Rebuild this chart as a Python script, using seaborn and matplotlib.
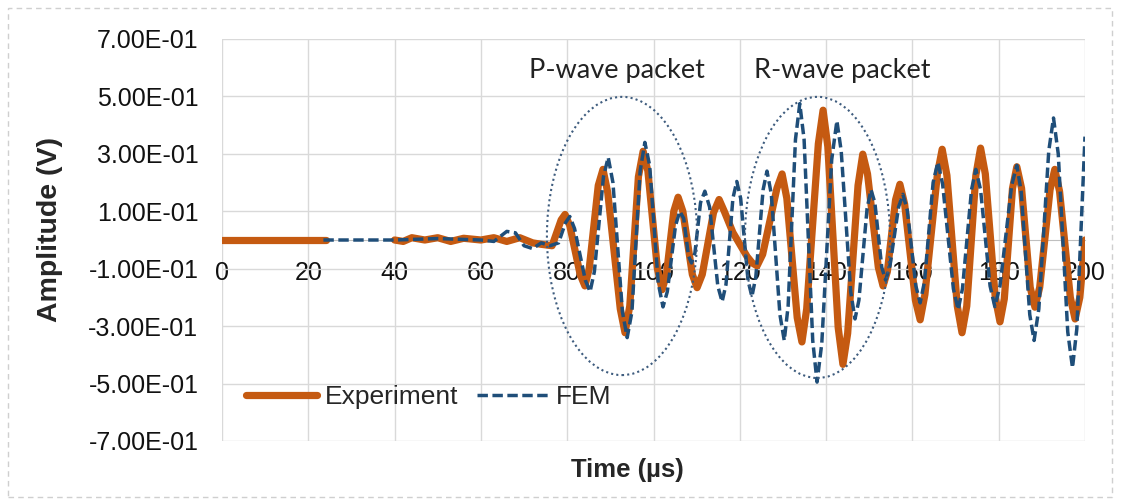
import pandas as pd
import matplotlib
matplotlib.use("Agg")
import matplotlib.pyplot as plt
from matplotlib.patches import Ellipse, Rectangle
import seaborn as sns

# values: each peak / trough with the points
# on its two flanks, so the waves keep their rounded shape
exp_time = [0, 24,
            40, 42, 44, 47, 50, 53, 56, 60, 63, 66, 69, 72, 74, 76.5,
            78.6, 79.5, 80.6,   83.0, 84.1, 85.1,   87.2, 88.3, 89.4,
            92.3, 93.4, 94.5,   96.5, 97.6, 98.7,   100.9, 102.0, 103.0,
            104.7, 105.7, 106.8,   109.0, 110.1, 111.3,   113.9, 115.2, 116.4,
            118.4, 121.7,   122.9, 124.0, 125.3,   128.6, 129.8, 130.9,
            133.3, 134.4, 135.5,   138.2, 139.3, 140.4,   142.8, 143.9, 145.0,
            147.4, 148.5, 149.6,   152.1, 153.2, 154.2,   156.1, 157.1, 158.2,
            160.7, 161.8, 162.9,   165.8, 166.9, 168.0,   170.4, 171.5, 172.6,
            174.7, 175.8, 176.9,   179.2, 180.3, 181.3,   183.2, 184.2, 185.3,
            187.3, 188.4, 189.5,   191.9, 193.0, 194.1,   196.6, 197.7, 198.8,
            200]
exp_amp = [0, 0,
           0, -0.005, 0.008, 0, 0.008, -0.005, 0.006, 0, 0.008, -0.005, 0.008, -0.01, -0.015, -0.02,
           0.07, 0.089, 0.05,   -0.12, -0.16, -0.10,   0.19, 0.246, 0.165,
           -0.24, -0.323, -0.23,   0.22, 0.309, 0.24,   -0.10, -0.173, -0.12,
           0.10, 0.149, 0.10,   -0.12, -0.166, -0.12,   0.095, 0.141, 0.10,
           0.026, -0.058,   -0.08, -0.09, -0.05,   0.18, 0.23, 0.145,
           -0.27, -0.355, -0.24,   0.335, 0.452, 0.325,   -0.305, -0.433, -0.325,
           0.19, 0.299, 0.23,   -0.095, -0.16, -0.11,   0.14, 0.194, 0.125,
           -0.21, -0.278, -0.19,   0.23, 0.316, 0.225,   -0.23, -0.323, -0.23,
           0.225, 0.32, 0.23,   -0.20, -0.285, -0.205,   0.18, 0.255, 0.18,
           -0.165, -0.234, -0.165,   0.175, 0.246, 0.17,   -0.20, -0.275, -0.20,
           0.0]
# the experiment trace is not visible between 24 and 40 us
exp_part = [0, 0] + [1] * (len(exp_time) - 2)

fem_time = [23.5, 40, 50, 60, 63, 66, 68, 70, 72, 74, 76, 78,
            79.6, 80.6, 81.7,   84.2, 85.3, 86.3,   88.4, 89.5, 90.6,
            92.8, 93.9, 95.0,   96.9, 98.0, 99.1,   101.1, 102.2, 103.2,
            105.1, 106.1, 107.0,   108.1, 108.8, 109.6,   110.9, 111.9, 113.0,
            114.9, 115.9, 116.8,   118.4, 119.3, 120.2,   121.9, 122.8, 123.7,
            125.4, 126.3, 127.3,   129.3, 130.3, 131.2,   132.9, 133.9, 134.9,
            136.9, 137.9, 139.0,   141.3, 142.5, 143.5,   145.7, 146.7, 147.6,
            149.5, 150.4, 151.3,   152.9, 153.8, 154.8,   156.8, 157.8, 158.8,
            160.8, 161.8, 162.8,   164.8, 165.9, 167.0,   169.5, 170.6, 171.6,
            173.7, 174.7, 175.8,   178.0, 179.1, 180.3,   183.0, 184.2, 185.2,
            187.2, 188.2, 189.3,   191.6, 192.7, 193.8,   196.0, 197.1, 198.1,
            200]
fem_amp = [0, 0, 0.005, 0, -0.005, 0.03, 0.025, -0.02, -0.03, -0.01, -0.02, -0.01,
           0.06, 0.082, 0.04,   -0.14, -0.18, -0.11,   0.22, 0.288, 0.20,
           -0.25, -0.34, -0.25,   0.24, 0.34, 0.26,   -0.15, -0.233, -0.18,
           0.05, 0.10, 0.075,   -0.055, -0.08, -0.045,   0.13, 0.17, 0.115,
           -0.16, -0.215, -0.155,   0.145, 0.204, 0.145,   -0.14, -0.197, -0.13,
           0.175, 0.24, 0.16,   -0.26, -0.35, -0.23,   0.35, 0.475, 0.35,
           -0.35, -0.495, -0.36,   0.28, 0.415, 0.31,   -0.18, -0.275, -0.21,
           0.11, 0.175, 0.13,   -0.095, -0.14, -0.09,   0.115, 0.159, 0.105,
           -0.16, -0.219, -0.145,   0.20, 0.271, 0.195,   -0.17, -0.243, -0.17,
           0.175, 0.246, 0.175,   -0.16, -0.232, -0.16,   0.19, 0.26, 0.17,
           -0.26, -0.35, -0.24,   0.31, 0.425, 0.30,   -0.32, -0.445, -0.31,
           0.36]

x_ticks = [0, 20, 40, 60, 80, 100, 120, 140, 160, 180, 200]
y_ticks = [-0.7, -0.5, -0.3, -0.1, 0.1, 0.3, 0.5, 0.7]

exp_df = pd.DataFrame({"Time": exp_time, "Amplitude": exp_amp, "part": exp_part})
fem_df = pd.DataFrame({"Time": fem_time, "Amplitude": fem_amp})

sns.set_style("whitegrid")
plt.rcParams["font.family"] = ["Liberation Sans", "DejaVu Sans"]

fig = plt.figure(figsize=(11.3, 5.01), dpi=100)
ax = fig.add_axes([222 / 1130, 1 - 441 / 501, 863 / 1130, 402 / 501])

orange = "#C55A11"
blue = "#1F4E79"
fem_dash = (0, (3, 1.3))

sns.lineplot(data=exp_df, x="Time", y="Amplitude", units="part", estimator=None,
             ax=ax, color=orange, linewidth=5.2, solid_joinstyle="round",
             solid_capstyle="round", zorder=3)
sns.lineplot(data=fem_df, x="Time", y="Amplitude", ax=ax, color=blue,
             linewidth=2.5, linestyle=fem_dash, zorder=4)

# dotted ellipses around the wave packets
for cx, cy, w, h in [(92.7, 0.014, 34.8, 0.969), (138.0, 0.009, 33.6, 0.979)]:
    ax.add_patch(Ellipse((cx, cy), w, h, fill=False, edgecolor="#3E5C7E",
                         linestyle=(0, (1, 1.5)), linewidth=1.5, zorder=5))

ann_font = ["Lato", "DejaVu Sans"]
ax.text(91.5, 0.59, "P-wave packet", ha="center", va="center", fontsize=19.5,
        family=ann_font, color="#222222")
ax.text(143.7, 0.59, "R-wave packet", ha="center", va="center", fontsize=19.5,
        family=ann_font, color="#222222")

ax.set_xlim(0, 200)
ax.set_ylim(-0.7, 0.7)
ax.set_xticks(x_ticks)
ax.set_yticks(y_ticks)
ax.set_yticklabels([f"{v:.2E}" for v in y_ticks])
ax.grid(True, color="#D9D9D9", linewidth=1)
for s in ["top", "right", "left"]:
    ax.spines[s].set_visible(False)
ax.spines["bottom"].set_position(("data", 0))
ax.spines["bottom"].set_color("#BFBFBF")
ax.tick_params(axis="both", length=0, labelsize=18, colors="#111111")
ax.tick_params(axis="x", pad=15)
ax.tick_params(axis="y", pad=17)

ax.set_xlabel("")
ax.set_ylabel("")
fig.text(627 / 1130, 1 - 470 / 501, "Time (µs)", ha="center", va="center",
         fontsize=18.5, fontweight="bold")
fig.text(50 / 1130, 1 - 230 / 501, "Amplitude (V)", ha="center", va="center",
         rotation=90, fontsize=20.5, fontweight="bold")

handles = [plt.Line2D([], [], color=orange, linewidth=5.2, solid_capstyle="round"),
           plt.Line2D([], [], color=blue, linewidth=2.5, linestyle=fem_dash)]
ax.legend(handles, ["Experiment", "FEM"], loc="lower left",
          bbox_to_anchor=(0.0, 0.02), ncol=2, frameon=False, fontsize=19,
          handlelength=2.7, handletextpad=0.3, columnspacing=0.7)

# light dashed frame around the chart
fig.patches.append(Rectangle((8 / 1130, 4 / 501), 1104 / 1130, 489 / 501,
                             transform=fig.transFigure, fill=False,
                             edgecolor="#CFCFCF", linestyle=(0, (4, 3)),
                             linewidth=1))

fig.savefig("out.png", dpi=100)
